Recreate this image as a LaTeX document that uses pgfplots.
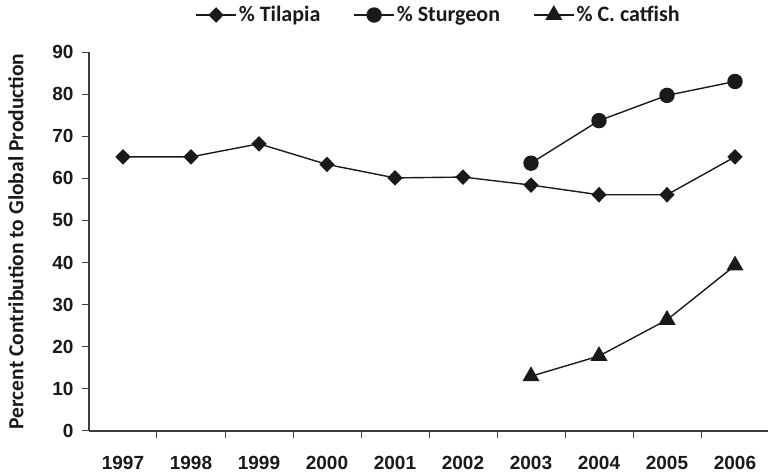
\documentclass[border=0pt]{standalone}
\usepackage{fontspec}
\setmainfont{Liberation Sans}
\newfontfamily\carl{Carlito}
\usepackage{pgfplots}
\pgfplotsset{compat=1.18}
\definecolor{ink}{HTML}{1A1A1A}
\definecolor{axisgray}{HTML}{3C3C3C}
\begin{document}
\begin{tikzpicture}[x=1pt,y=1pt]
\useasboundingbox (-89pt,-42pt) rectangle (679pt,431pt);
\begin{axis}[
  at={(0pt,0pt)}, anchor=south west,
  scale only axis, width=680pt, height=379pt,
  xmin=-0.5, xmax=9.5, ymin=0, ymax=90,
  axis x line*=bottom, axis y line*=left,
  axis line style={draw=axisgray, line width=1.1pt},
  clip=false,
  tick align=outside,
  major tick length=7pt,
  tick style={draw=axisgray, line width=1pt},
  xtick={0.5,1.5,...,8.5},
  xticklabels={},
  extra x ticks={0,1,2,3,4,5,6,7,8,9},
  extra x tick labels={1997,1998,1999,2000,2001,2002,2003,2004,2005,2006},
  extra x tick style={major tick length=0pt, tick style={draw=none}},
  ytick={0,10,...,90},
  /pgf/number format/assume math mode=true,
  ticklabel style={font=\fontsize{19}{19}\selectfont\bfseries, text=ink},
  xticklabel style={yshift=-22pt},
  yticklabel style={xshift=-5pt},
  ylabel={\carl\bfseries Percent Contribution to Global Production},
  every axis y label/.style={at={(axis description cs:0,0.5)}, rotate=90, anchor=south, yshift=62pt,
     font=\fontsize{21.5}{21.5}\selectfont, text=ink},
  legend columns=3,
  legend style={draw=none, fill=none, at={(axis description cs:0.514,1.0976)}, anchor=center,
    font=\carl\bfseries\fontsize{22}{22}\selectfont, text=ink,
    /tikz/every even column/.append style={column sep=31pt}, inner sep=0pt},
  legend image code/.code={\draw[mark repeat=2, mark phase=2] plot coordinates {(0pt,0pt) (20pt,0pt) (40pt,0pt)};},
  every axis plot/.append style={line width=1.4pt, color=ink},
]
\addplot[mark=diamond*, mark size=6.8pt, mark options={xscale=1.3, solid}] coordinates {
(0,65.1) (1,65.1) (2,68.2) (3,63.3) (4,60.1) (5,60.3) (6,58.4) (7,56.1) (8,56.1) (9,65.1)};
\addlegendentry{\% Tilapia}
\addplot[mark=*, mark size=7pt] coordinates {
(6,63.6) (7,73.7) (8,79.7) (9,83.0)};
\addlegendentry{\% Sturgeon}
\addplot[mark=triangle*, mark size=8.5pt] coordinates {
(6,13.0) (7,17.8) (8,26.4) (9,39.3)};
\addlegendentry{\% C. catfish}
\end{axis}
\end{tikzpicture}
\end{document}
